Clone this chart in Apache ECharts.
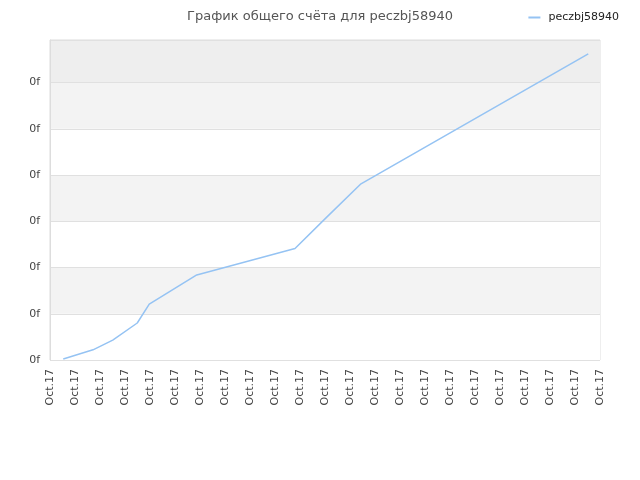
<!DOCTYPE html>
<html>
<head>
<meta charset="utf-8">
<script src="https://cdn.jsdelivr.net/npm/echarts@6/dist/echarts.min.js"></script>
<style>
  html, body { margin:0; padding:0; background:#fff; }
  #main { width:640px; height:480px; }
</style>
</head>
<body>
<div id="main"></div>
<script>
// x position of each point, in label steps (one "Oct.17" label per step)
var xSteps = [0.53, 1.72, 2.51, 3.49, 3.97, 5.87, 9.8, 11.07, 12.44, 21.53]
// total score, in grid steps
var scores = [0.02, 0.22, 0.43, 0.80, 1.21, 1.84, 2.41, 3.09, 3.81, 6.62]
var xLabel = 'Oct.17'
var yLabel = '0f'

var points = []
for (var i = 0; i < xSteps.length; i++) {
    points.push([xSteps[i], scores[i]])
}

var myChart = echarts.init(document.getElementById('main'))
var option = {
    animation: false,
    title: {
        text: 'График общего счёта для peczbj58940',
        left: 'center',
        top: 5,
        textStyle: {
            fontFamily: 'DejaVu Sans',
            fontSize: 13,
            fontWeight: 'normal',
            color: '#555'
        }
    },
    legend: {
        right: 16,
        top: 7,
        itemWidth: 12,
        itemHeight: 2,
        textStyle: {
            fontFamily: 'DejaVu Sans',
            fontSize: 11,
            color: '#222',
            padding: [0, 0, 0, 3]
        },
        data: [{name: 'peczbj58940', icon: 'rect'}]
    },
    grid: {
        left: 50,
        right: 40,
        top: 40,
        bottom: 120,
        show: true,
        borderColor: '#dddddd',
        borderWidth: 1
    },
    xAxis: {
        type: 'value',
        min: 0,
        max: 22,
        interval: 1,
        axisLine: {show: false},
        axisTick: {show: false},
        splitLine: {show: false},
        axisLabel: {
            rotate: 90,
            margin: 9,
            fontFamily: 'DejaVu Sans',
            fontSize: 11,
            color: '#444',
            showMinLabel: true,
            showMaxLabel: true,
            formatter: function () { return xLabel }
        }
    },
    yAxis: {
        type: 'value',
        min: 0,
        max: 6.92,
        interval: 1,
        axisLine: {show: true, lineStyle: {color: '#dddddd'}},
        axisTick: {show: false},
        axisLabel: {
            margin: 10,
            fontFamily: 'DejaVu Sans',
            fontSize: 11,
            color: '#444',
            formatter: function (v) { return Math.abs(v - Math.round(v)) < 1e-6 ? yLabel : '' }
        },
        splitLine: {show: true, lineStyle: {color: '#e0e0e0'}},
        splitArea: {
            show: true,
            areaStyle: {
                color: ['#ffffff', '#f3f3f3', '#ffffff', '#f3f3f3', '#ffffff', '#f3f3f3', '#eeeeee']
            }
        }
    },
    series: [{
        name: 'peczbj58940',
        type: 'line',
        data: points,
        showSymbol: false,
        symbol: 'none',
        color: '#95c3f3',
        lineStyle: {width: 1.5, color: '#95c3f3'}
    }]
}
myChart.setOption(option)
</script>
</body>
</html>
